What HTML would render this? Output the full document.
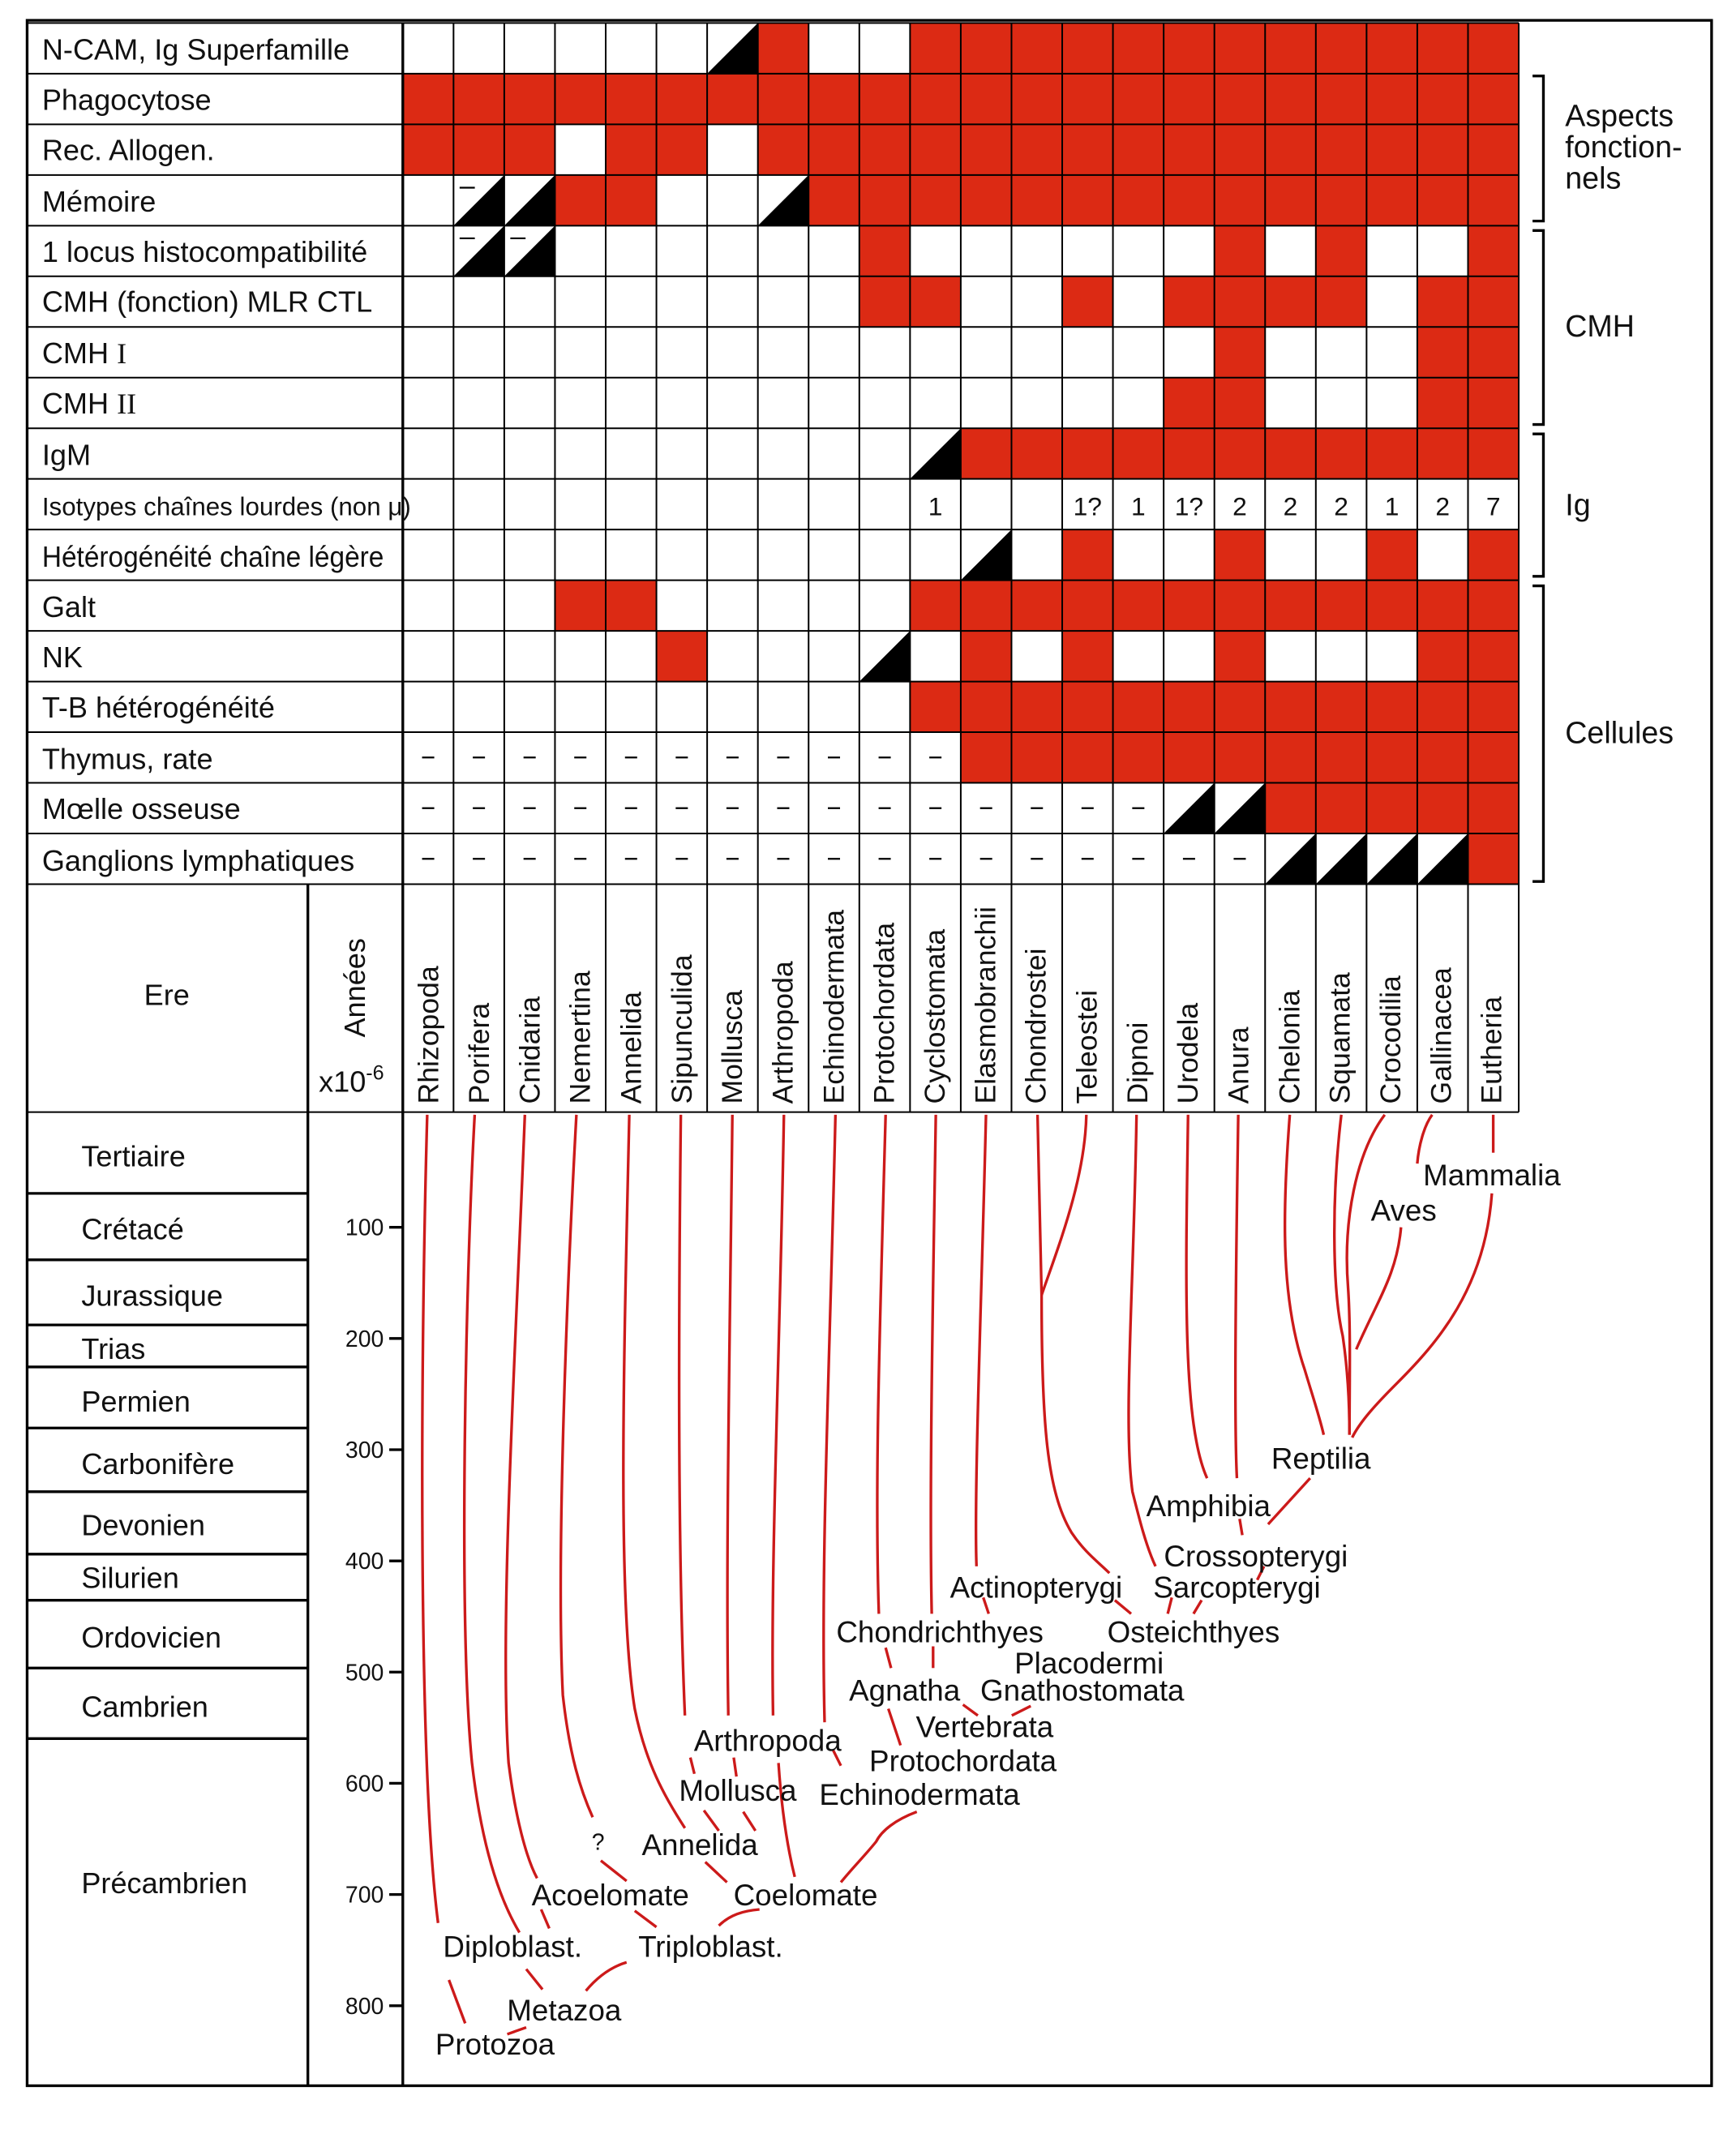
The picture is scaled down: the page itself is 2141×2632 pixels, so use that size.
<!DOCTYPE html>
<html><head><meta charset="utf-8"><style>
html,body{margin:0;padding:0;background:#fff;}
svg{display:block;}
text{font-family:"Liberation Sans",Arial,sans-serif;fill:#111;}
</style></head><body>
<svg width="2141" height="2632" viewBox="0 0 1280 1573.6" preserveAspectRatio="none" xmlns="http://www.w3.org/2000/svg">
<rect x="0" y="0" width="1280" height="1574" fill="#fff"/>
<g transform="translate(297,17) scale(37.4,37.35)" fill="#dc2a14">
<rect x="7" y="0" width="1" height="1"/><rect x="10" y="0" width="12" height="1"/>
<rect x="0" y="1" width="22" height="1"/>
<rect x="0" y="2" width="3" height="1"/><rect x="4" y="2" width="2" height="1"/><rect x="7" y="2" width="15" height="1"/>
<rect x="3" y="3" width="2" height="1"/><rect x="8" y="3" width="14" height="1"/>
<rect x="9" y="4" width="1" height="1"/><rect x="16" y="4" width="1" height="1"/><rect x="18" y="4" width="1" height="1"/><rect x="21" y="4" width="1" height="1"/>
<rect x="9" y="5" width="2" height="1"/><rect x="13" y="5" width="1" height="1"/><rect x="15" y="5" width="4" height="1"/><rect x="20" y="5" width="2" height="1"/>
<rect x="16" y="6" width="1" height="1"/><rect x="20" y="6" width="2" height="1"/>
<rect x="15" y="7" width="2" height="1"/><rect x="20" y="7" width="2" height="1"/>
<rect x="11" y="8" width="11" height="1"/>
<rect x="13" y="10" width="1" height="1"/><rect x="16" y="10" width="1" height="1"/><rect x="19" y="10" width="1" height="1"/><rect x="21" y="10" width="1" height="1"/>
<rect x="3" y="11" width="2" height="1"/><rect x="10" y="11" width="12" height="1"/>
<rect x="5" y="12" width="1" height="1"/><rect x="11" y="12" width="1" height="1"/><rect x="13" y="12" width="1" height="1"/><rect x="16" y="12" width="1" height="1"/><rect x="20" y="12" width="2" height="1"/>
<rect x="10" y="13" width="12" height="1"/>
<rect x="11" y="14" width="11" height="1"/>
<rect x="17" y="15" width="5" height="1"/>
<rect x="21" y="16" width="1" height="1"/>
<g fill="#000">
<polygon points="6,1 7,0 7,1"/>
<polygon points="1,4 2,3 2,4"/><polygon points="2,4 3,3 3,4"/><polygon points="7,4 8,3 8,4"/>
<polygon points="1,5 2,4 2,5"/><polygon points="2,5 3,4 3,5"/>
<polygon points="10,9 11,8 11,9"/>
<polygon points="11,11 12,10 12,11"/>
<polygon points="9,13 10,12 10,13"/>
<polygon points="15,16 16,15 16,16"/><polygon points="16,16 17,15 17,16"/>
<polygon points="17,17 18,16 18,17"/><polygon points="18,17 19,16 19,17"/><polygon points="19,17 20,16 20,17"/><polygon points="20,17 21,16 21,17"/>
</g>
<g stroke="#000" stroke-width="2.2" fill="none">
<path vector-effect="non-scaling-stroke" d="M1.12,3.25H1.42M1.12,4.25H1.42M2.12,4.25H2.42"/>
<path vector-effect="non-scaling-stroke" d="M0.38,14.5H0.62M1.38,14.5H1.62M2.38,14.5H2.62M3.38,14.5H3.62M4.38,14.5H4.62M5.38,14.5H5.62M6.38,14.5H6.62M7.38,14.5H7.62M8.38,14.5H8.62M9.38,14.5H9.62M10.38,14.5H10.62"/>
<path vector-effect="non-scaling-stroke" d="M0.38,15.5H0.62M1.38,15.5H1.62M2.38,15.5H2.62M3.38,15.5H3.62M4.38,15.5H4.62M5.38,15.5H5.62M6.38,15.5H6.62M7.38,15.5H7.62M8.38,15.5H8.62M9.38,15.5H9.62M10.38,15.5H10.62M11.38,15.5H11.62M12.38,15.5H12.62M13.38,15.5H13.62M14.38,15.5H14.62"/>
<path vector-effect="non-scaling-stroke" d="M0.38,16.5H0.62M1.38,16.5H1.62M2.38,16.5H2.62M3.38,16.5H3.62M4.38,16.5H4.62M5.38,16.5H5.62M6.38,16.5H6.62M7.38,16.5H7.62M8.38,16.5H8.62M9.38,16.5H9.62M10.38,16.5H10.62M11.38,16.5H11.62M12.38,16.5H12.62M13.38,16.5H13.62M14.38,16.5H14.62M15.38,16.5H15.62M16.38,16.5H16.62"/>
</g>
<g stroke="#000" stroke-width="2" fill="none">
<path vector-effect="non-scaling-stroke" d="M0,0V21.5M1,0V21.5M2,0V21.5M3,0V21.5M4,0V21.5M5,0V21.5M6,0V21.5M7,0V21.5M8,0V21.5M9,0V21.5M10,0V21.5M11,0V21.5M12,0V21.5M13,0V21.5M14,0V21.5M15,0V21.5M16,0V21.5M17,0V21.5M18,0V21.5M19,0V21.5M20,0V21.5M21,0V21.5M22,0V21.5"/>
<path vector-effect="non-scaling-stroke" d="M-7.4,0H22M-7.4,1H22M-7.4,2H22M-7.4,3H22M-7.4,4H22M-7.4,5H22M-7.4,6H22M-7.4,7H22M-7.4,8H22M-7.4,9H22M-7.4,10H22M-7.4,11H22M-7.4,12H22M-7.4,13H22M-7.4,14H22M-7.4,15H22M-7.4,16H22M-7.4,17H22M-7.4,21.5H22"/>
</g>
</g>
<g stroke="#000" stroke-width="2" fill="none">
<rect x="20" y="15" width="1242" height="1523"/>
<line x1="297" y1="17" x2="297" y2="1538"/>
<line x1="227" y1="652" x2="227" y2="1538"/>
<path d="M20,880H227M20,929H227M20,977H227M20,1008H227M20,1053H227M20,1100H227M20,1146H227M20,1180H227M20,1230H227M20,1282H227"/>
<path d="M287,905H297M287,987H297M287,1069H297M287,1151H297M287,1233H297M287,1315H297M287,1397H297M287,1479H297"/>
<path d="M1130,56H1138V163H1130M1130,170H1138V313H1130M1130,320H1138V425H1130M1130,432H1138V650H1130"/>
</g>
<g font-size="21.6">
<text x="31" y="44">N-CAM, Ig Superfamille</text>
<text x="31" y="81">Phagocytose</text>
<text x="31" y="118">Rec. Allogen.</text>
<text x="31" y="156">Mémoire</text>
<text x="31" y="193">1 locus histocompatibilité</text>
<text x="31" y="230">CMH (fonction) MLR CTL</text>
<text x="31" y="268">CMH <tspan font-family="Liberation Serif">I</tspan></text>
<text x="31" y="305">CMH <tspan font-family="Liberation Serif">II</tspan></text>
<text x="31" y="343">IgM</text>
<text x="31" y="380" font-size="19" textLength="272" lengthAdjust="spacingAndGlyphs">Isotypes chaînes lourdes (non μ)</text>
<text x="31" y="418" textLength="252" lengthAdjust="spacingAndGlyphs">Hétérogénéité chaîne légère</text>
<text x="31" y="455">Galt</text>
<text x="31" y="492">NK</text>
<text x="31" y="529">T-B hétérogénéité</text>
<text x="31" y="567">Thymus, rate</text>
<text x="31" y="604">Mœlle osseuse</text>
<text x="31" y="642">Ganglions lymphatiques</text>
</g>
<g font-size="22.5">
<text x="1154" y="93">Aspects</text>
<text x="1154" y="116">fonction-</text>
<text x="1154" y="139">nels</text>
<text x="1154" y="248">CMH</text>
<text x="1154" y="380">Ig</text>
<text x="1154" y="548">Cellules</text>
</g>
<g font-size="19" text-anchor="middle">
<text x="689.7" y="380">1</text><text x="801.9" y="380">1?</text><text x="839.3" y="380">1</text><text x="876.7" y="380">1?</text><text x="914.1" y="380">2</text><text x="951.5" y="380">2</text><text x="988.9" y="380">2</text><text x="1026.3" y="380">1</text><text x="1063.7" y="380">2</text><text x="1101.1" y="380">7</text>
</g>
<text x="123" y="741" font-size="21.6" text-anchor="middle">Ere</text>
<text transform="translate(269,765) rotate(-90)" font-size="21.6">Années</text>
<text x="235" y="805" font-size="21.6">x10<tspan font-size="15" dy="-9">-6</tspan></text>
<g font-size="21.3">
<text transform="translate(323,814) rotate(-90)">Rhizopoda</text>
<text transform="translate(360.5,814) rotate(-90)">Porifera</text>
<text transform="translate(398,814) rotate(-90)">Cnidaria</text>
<text transform="translate(435,814) rotate(-90)">Nemertina</text>
<text transform="translate(472.5,814) rotate(-90)">Annelida</text>
<text transform="translate(510,814) rotate(-90)">Sipunculida</text>
<text transform="translate(547,814) rotate(-90)">Mollusca</text>
<text transform="translate(584.5,814) rotate(-90)">Arthropoda</text>
<text transform="translate(622,814) rotate(-90)">Echinodermata</text>
<text transform="translate(659,814) rotate(-90)">Protochordata</text>
<text transform="translate(696.5,814) rotate(-90)">Cyclostomata</text>
<text transform="translate(734,814) rotate(-90)">Elasmobranchii</text>
<text transform="translate(771,814) rotate(-90)">Chondrostei</text>
<text transform="translate(808.5,814) rotate(-90)">Teleostei</text>
<text transform="translate(846,814) rotate(-90)">Dipnoi</text>
<text transform="translate(883,814) rotate(-90)">Urodela</text>
<text transform="translate(920.5,814) rotate(-90)">Anura</text>
<text transform="translate(958,814) rotate(-90)">Chelonia</text>
<text transform="translate(995,814) rotate(-90)">Squamata</text>
<text transform="translate(1032.5,814) rotate(-90)">Crocodilia</text>
<text transform="translate(1070,814) rotate(-90)">Gallinacea</text>
<text transform="translate(1107,814) rotate(-90)">Eutheria</text>
</g>
<g font-size="21.6">
<text x="60" y="860">Tertiaire</text>
<text x="60" y="914">Crétacé</text>
<text x="60" y="963">Jurassique</text>
<text x="60" y="1002">Trias</text>
<text x="60" y="1041">Permien</text>
<text x="60" y="1087">Carbonifère</text>
<text x="60" y="1132">Devonien</text>
<text x="60" y="1171">Silurien</text>
<text x="60" y="1215">Ordovicien</text>
<text x="60" y="1266">Cambrien</text>
<text x="60" y="1396">Précambrien</text>
</g>
<g font-size="17" text-anchor="end">
<text x="283" y="911">100</text><text x="283" y="993">200</text><text x="283" y="1075">300</text><text x="283" y="1157">400</text><text x="283" y="1239">500</text><text x="283" y="1321">600</text><text x="283" y="1403">700</text><text x="283" y="1485">800</text>
</g>
<g stroke="#cc1a1a" stroke-width="2" fill="none">
<path d="M315,822 C310,1000 308,1300 323,1418"/>
<path d="M331,1460 L343,1492"/>
<path d="M350,822 C343,950 338,1200 348,1300 C355,1360 368,1400 383,1425"/>
<path d="M388,1452 L400,1467"/>
<path d="M387,822 C380,1000 368,1200 375,1300 C380,1340 388,1370 396,1385"/>
<path d="M399,1408 L405,1422"/>
<path d="M425,822 C418,950 410,1150 415,1250 C420,1295 428,1320 437,1340"/>
<path d="M443,1372 L462,1387"/>
<path d="M464,822 C460,1000 455,1180 468,1260 C476,1300 490,1325 505,1348"/>
<path d="M502,822 C500,1000 500,1150 505,1265"/>
<path d="M509,1296 L512,1308 M519,1335 L530,1350"/>
<path d="M540,822 C538,1000 535,1150 537,1265"/>
<path d="M541,1296 L543,1310 M548,1336 L557,1350"/>
<path d="M578,822 C575,1000 568,1150 570,1265"/>
<path d="M574,1300 C576,1330 580,1360 586,1384"/>
<path d="M616,822 C612,1000 605,1150 608,1270"/>
<path d="M614,1290 L620,1302"/>
<path d="M676,1336 C660,1342 650,1350 646,1358 C638,1368 628,1378 620,1388"/>
<path d="M653,822 C648,1000 645,1100 648,1190"/>
<path d="M653,1215 L657,1230 M655,1260 L664,1287"/>
<path d="M690,822 C688,950 685,1100 687,1190"/>
<path d="M688,1214 L688,1230"/>
<path d="M710,1257 L721,1265 M760,1258 L746,1265"/>
<path d="M727,822 C724,950 718,1100 720,1155"/>
<path d="M725,1178 L729,1190"/>
<path d="M801,822 C800,870 780,920 768,955"/>
<path d="M765,822 L768,955 C768,1050 772,1100 790,1130 C800,1145 810,1152 818,1160"/>
<path d="M822,1180 L834,1190"/>
<path d="M838,822 C836,950 828,1050 835,1100 C840,1120 845,1140 852,1155"/>
<path d="M864,1178 L861,1190 M886,1180 L880,1190"/>
<path d="M876,822 C874,950 872,1050 890,1090"/>
<path d="M913,822 C911,950 910,1050 912,1090"/>
<path d="M914,1120 L916,1132 M932,1155 L927,1165"/>
<path d="M966,1090 L935,1124"/>
<path d="M951,822 C945,900 945,960 962,1010 C968,1030 973,1045 976,1058"/>
<path d="M989,822 C982,880 982,950 990,985 C993,1005 995,1030 995,1058"/>
<path d="M1021,822 C1000,850 990,900 994,950 C996,980 995,1020 995,1058"/>
<path d="M1033,905 C1030,940 1015,960 1000,995"/>
<path d="M1056,822 C1050,830 1046,845 1045,858"/>
<path d="M1101,822 L1101,850"/>
<path d="M1100,880 C1095,950 1060,990 1030,1020 C1015,1035 1003,1048 997,1060"/>
<path d="M432,1468 C442,1456 452,1450 462,1447"/>
<path d="M530,1420 C538,1412 548,1409 560,1408"/>
<path d="M468,1409 L484,1421"/>
<path d="M520,1373 L536,1388"/>
<path d="M374,1500 L388,1495"/>
</g>
<g font-size="22" text-anchor="middle">
<text x="365" y="1515">Protozoa</text>
<text x="416" y="1490">Metazoa</text>
<text x="378" y="1443">Diploblast.</text>
<text x="524" y="1443">Triploblast.</text>
<text x="450" y="1405">Acoelomate</text>
<text x="594" y="1405">Coelomate</text>
<text x="441" y="1364" font-size="17">?</text>
<text x="516" y="1368">Annelida</text>
<text x="544" y="1328">Mollusca</text>
<text x="678" y="1331">Echinodermata</text>
<text x="566" y="1291">Arthropoda</text>
<text x="710" y="1306">Protochordata</text>
<text x="726" y="1281">Vertebrata</text>
<text x="667" y="1254">Agnatha</text>
<text x="798" y="1254">Gnathostomata</text>
<text x="803" y="1234">Placodermi</text>
<text x="693" y="1211">Chondrichthyes</text>
<text x="880" y="1211">Osteichthyes</text>
<text x="764" y="1178">Actinopterygi</text>
<text x="912" y="1178">Sarcopterygi</text>
<text x="926" y="1155">Crossopterygi</text>
<text x="891" y="1118">Amphibia</text>
<text x="974" y="1083">Reptilia</text>
<text x="1035" y="900">Aves</text>
<text x="1100" y="874">Mammalia</text>
</g>
</svg>
</body></html>
